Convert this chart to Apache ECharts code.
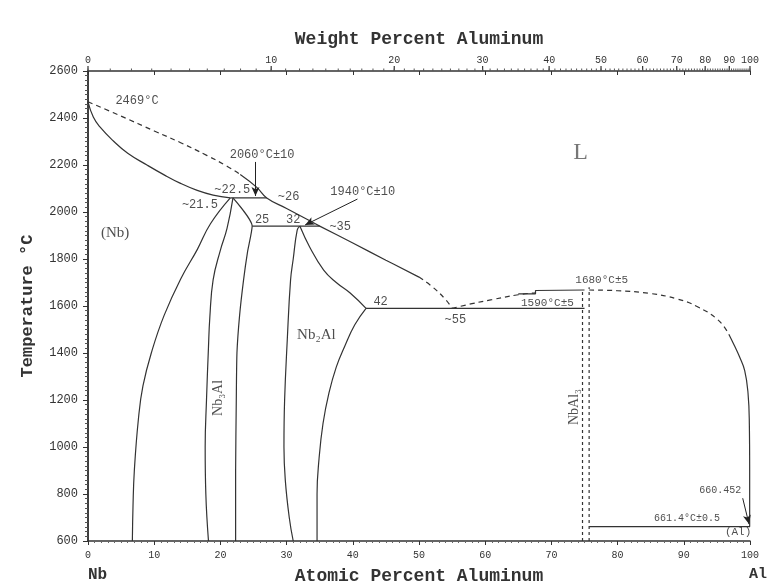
<!DOCTYPE html>
<html><head><meta charset="utf-8">
<script src="https://cdn.jsdelivr.net/npm/echarts@6/dist/echarts.min.js"></script>
<style>html,body{margin:0;padding:0;background:#fff}#c{width:771px;height:584px}</style>
</head><body><div id="c"></div>
<script>
// ---- data (atomic % Al, temperature °C) ----
const weightTicks = [0,10,20,30,40,50,60,70,80,90,100];
const nbSolidus = [[0,2469],[0.8,2404],[1.8,2362],[3.8,2303],[6,2250],[8.9,2200],[11.5,2158],[13.9,2123],[16.5,2092],[18.9,2072],[21.5,2060]];
const liquidusNbDashed = [[0,2469],[5,2408],[10,2345],[14,2295],[18,2240],[21,2195],[23,2160]];
const liquidusSolid = [[23,2160],[25.5,2105],[27,2060],[30,2015],[33,1970],[35,1940],[40,1868],[45,1795],[50,1723]];
const liquidusEutDashed = [[50,1723],[52,1682],[54,1628],[55,1590]];
const liquidusNbAl3Left = [[55,1590],[58,1610],[61,1627],[65,1648],[67.6,1656]];
const nbAl3Step = [[65,1652],[67.6,1652],[67.6,1666],[75,1668]];
const liquidusAlDashed = [[75.7,1668],[80,1665],[85,1653],[89,1630],[92,1598],[95.2,1540],[96.8,1480]];
const liquidusAlSolid = [[96.8,1480],[97.6,1434],[98.4,1385],[99.2,1325],[99.7,1230],[99.9,1100],[99.95,900],[99.95,661]];
const peritectic2060 = [[21.5,2060],[27,2060]];
const peritectic1940 = [[24.8,1940],[35,1940]];
const eutectic1590 = [[42,1590],[75,1590]];
const eutectic661 = [[75.7,661.4],[100,661.4]];
const nbSolvus = [[21.5,2060],[18.5,1950],[16.5,1840],[14,1715],[11.5,1560],[9.7,1413],[8.3,1260],[7.6,1115],[7.0,900],[6.8,750],[6.7,600]];
const nb3AlLeft = [[21.9,2060],[21,1930],[20,1838],[18.9,1711],[18.4,1550],[18.2,1426],[17.9,1200],[17.7,1000],[17.8,800],[18.2,600]];
const nb3AlRight = [[21.9,2060],[24.8,1940],[24.1,1830],[23.5,1711],[22.9,1560],[22.5,1400],[22.4,1200],[22.3,900],[22.3,600]];
const nb2AlLeft = [[32,1940],[31.6,1923],[31.0,1800],[30.6,1711],[30.1,1455],[29.7,1200],[29.6,1000],[29.8,860],[30.4,700],[31.0,600]];
const nb2AlRight = [[32,1940],[33.5,1850],[35.6,1753],[37.5,1700],[39.6,1655],[42,1590]];
const nb2AlSolvusR = [[42,1590],[40.3,1520],[38.8,1430],[37.5,1340],[36.4,1230],[35.5,1100],[34.9,950],[34.6,800],[34.6,600]];
const nbAl3LineA = [[74.7,600],[74.7,1660]];
const nbAl3LineB = [[75.7,600],[75.7,1680]];
const arrows = [
  [[25.3,2213],[25.3,2068]],
  [[40.7,2055],[32.8,1945]],
  [[98.9,782],[99.85,672]]
];
const numLabels = [
  ['2469°C',7.4,2472,12],['2060°C±10',26.3,2243,12],['~22.5',21.8,2094,12],['~26',30.3,2064,12],
  ['~21.5',16.9,2030,12],['25',26.3,1966,12],['32',31.0,1966,12],['1940°C±10',41.5,2085,12],
  ['~35',38.1,1936,12],['42',44.2,1617,12],['~55',55.5,1540,12],['1680°C±5',77.6,1711,11],
  ['1590°C±5',69.4,1613,11],['660.452',95.5,817,10],['661.4°C±0.5',90.5,698,10],['(Al)',98.2,638,11]
];
const phaseLabels = [['(Nb)',4.1,1911],['Nb₂Al',34.5,1477]];
const rotatedLabels = [['Nb₃Al',19.7,1209],['NbAl₃',73.4,1170]];
const bigLabels = [['L',74.4,2251]];

// weight% -> atomic% (Al 26.98, Nb 92.906) for the top axis
function wtToAt(w){ const a=w/26.98, b=(100-w)/92.906; return 100*a/(a+b); }
const minorWt = []; for(let w=0; w<=100; w+=1) minorWt.push(w);

const LC = '#333';
function ln(data, type, smooth){
  return {type:'line', data, showSymbol:false, smooth: smooth===undefined?0.45:smooth, silent:true, animation:false,
    lineStyle:{color:LC, width:1.2, type:type||'solid'}, z:3};
}
const serif = 'Liberation Serif', mono = 'Liberation Mono';
function labelSeries(items, opts){
  return {type:'scatter', symbolSize:0, silent:true, animation:false, clip:false, z:5,
    data: items.map(a=>({name:a[0], value:[a[1],a[2]], label: a[3]?{fontSize:a[3]}:undefined})),
    label:Object.assign({show:true, position:'inside', formatter:'{b}', color:'#222'}, opts)};
}
const series = [
  ln(nbSolidus), ln(liquidusNbDashed,[5,4]), ln(liquidusSolid), ln(liquidusEutDashed,[5,4]),
  ln(liquidusNbAl3Left,[5,4]), ln(nbAl3Step,'solid',false), ln(liquidusAlDashed,[5,4]), ln(liquidusAlSolid),
  ln(peritectic2060,'solid',false), ln(peritectic1940,'solid',false), ln(eutectic1590,'solid',false), ln(eutectic661,'solid',false),
  ln(nbSolvus), ln(nb3AlLeft), ln(nb3AlRight,'solid',0.2), ln(nb2AlLeft), ln(nb2AlRight), ln(nb2AlSolvusR),
  ln(nbAl3LineA,[3,3],false), ln(nbAl3LineB,[3,3],false),
  {type:'line', data:[], silent:true, animation:false,
   markLine:{silent:true, animation:false, symbol:['none','arrow'], symbolSize:[6,9],
     lineStyle:{color:'#222', width:1, type:'solid'}, label:{show:false},
     data: arrows.map(a=>[{coord:a[0]},{coord:a[1]}])}},
  labelSeries(numLabels, {fontFamily:mono, fontSize:12}),
  labelSeries(phaseLabels, {fontFamily:serif, fontSize:15}),
  labelSeries(rotatedLabels, {fontFamily:serif, fontSize:14, rotate:90}),
  labelSeries(bigLabels, {fontFamily:serif, fontSize:24, color:'#555'}),
  // top weight-percent axis: major ticks + labels
  {type:'custom', xAxisIndex:1, yAxisIndex:0, clip:false, silent:true, animation:false, z:6,
   data: weightTicks.map(w=>[wtToAt(w),2600,w]),
   renderItem:function(params, api){
     const p = api.coord([api.value(0), api.value(1)]);
     return {type:'group', children:[
       {type:'line', shape:{x1:p[0],y1:p[1],x2:p[0],y2:p[1]-5}, style:{stroke:'#333', lineWidth:1.2}},
       {type:'text', x:p[0], y:p[1]-6, style:{text:String(api.value(2)), textAlign:'center', textVerticalAlign:'bottom',
         fill:'#333', font:'10px "Liberation Mono"'}}
     ]};
   }},
  // top weight-percent axis: minor ticks
  {type:'custom', xAxisIndex:1, yAxisIndex:0, clip:false, silent:true, animation:false, z:6,
   data: minorWt.map(w=>[wtToAt(w),2600]),
   renderItem:function(params, api){
     const p = api.coord([api.value(0), api.value(1)]);
     return {type:'line', shape:{x1:p[0],y1:p[1],x2:p[0],y2:p[1]-2.5}, style:{stroke:'#555', lineWidth:1}};
   }}
];

const chart = echarts.init(document.getElementById('c'), null, {renderer:'canvas'});
const axisLineStyle = {color:'#333', width:1.5};
const titleStyle = {fontFamily:mono, fontWeight:'bold', fontSize:18, color:'#333'};
chart.setOption({
  backgroundColor:'#ffffff',
  animation:false,
  grid:{left:88, right:21, top:71, bottom:43, containLabel:false, outerBoundsMode:'none'},
  xAxis:[
    {type:'value', position:'bottom', min:0, max:100, interval:10,
     axisLine:{show:true, lineStyle:axisLineStyle},
     axisTick:{show:true, inside:false, length:4, lineStyle:{color:'#333'}},
     minorTick:{show:true, splitNumber:10, length:2, lineStyle:{color:'#666'}},
     splitLine:{show:false},
     axisLabel:{color:'#333', fontSize:10, fontFamily:mono, margin:9},
     name:'Atomic Percent Aluminum', nameLocation:'middle', nameGap:26, nameTextStyle:titleStyle},
    {type:'value', position:'top', min:0, max:100, interval:10,
     axisLine:{show:true, lineStyle:axisLineStyle},
     axisTick:{show:true, inside:true, length:4, lineStyle:{color:'#333'}},
     splitLine:{show:false}, axisLabel:{show:false},
     name:'Weight Percent Aluminum', nameLocation:'middle', nameGap:23, nameTextStyle:titleStyle}
  ],
  yAxis:[
    {type:'value', position:'left', min:600, max:2600, interval:200,
     axisLine:{show:true, lineStyle:axisLineStyle},
     axisTick:{show:true, inside:false, length:5, lineStyle:{color:'#333'}},
     minorTick:{show:true, splitNumber:10, length:2, lineStyle:{color:'#666'}},
     splitLine:{show:false},
     axisLabel:{color:'#333', fontSize:12, fontFamily:mono, margin:10, formatter:v=>String(v)},
     name:'Temperature °C', nameLocation:'middle', nameGap:52, nameRotate:90, nameTextStyle:Object.assign({}, titleStyle, {fontSize:17})},
    {type:'value', position:'right', min:600, max:2600, interval:200,
     axisLine:{show:true, lineStyle:axisLineStyle},
     axisTick:{show:true, inside:true, length:5, lineStyle:{color:'#333'}},
     minorTick:{show:true, splitNumber:10, length:3, lineStyle:{color:'#555'}},
     splitLine:{show:false}, axisLabel:{show:false}}
  ],
  graphic:[
    {type:'text', left:88, top:567, style:{text:'Nb', font:'bold 16px "Liberation Mono"', fill:'#333'}},
    {type:'text', left:749, top:567, style:{text:'Al', font:'bold 15px "Liberation Mono"', fill:'#333'}}
  ],
  series: series
});
</script>
</body></html>
